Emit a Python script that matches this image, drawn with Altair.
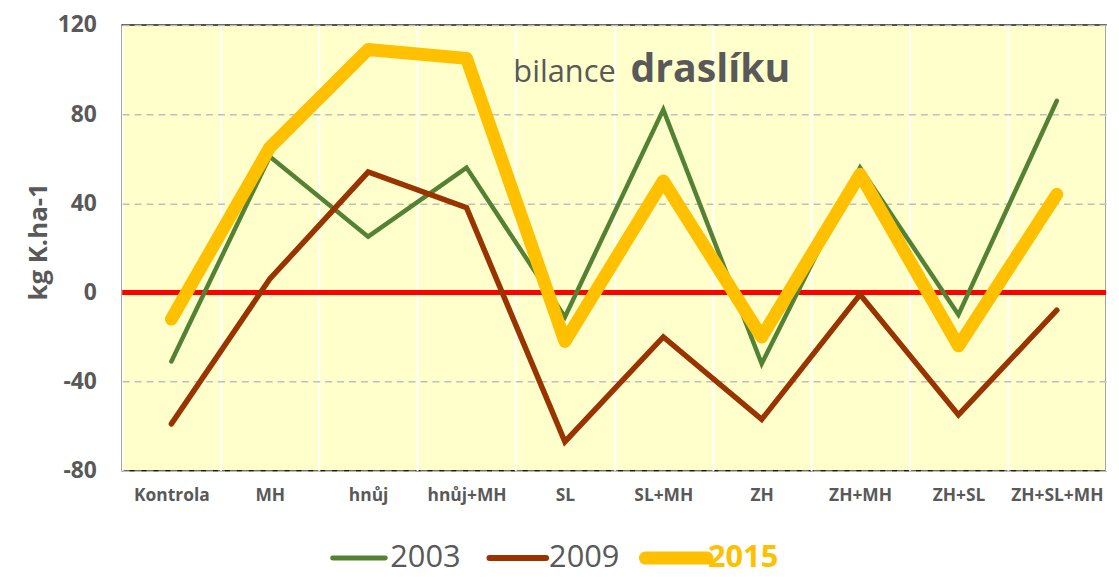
import altair as alt
import pandas as pd

categories = ["Kontrola", "MH", "hnůj", "hnůj+MH", "SL", "SL+MH", "ZH", "ZH+MH", "ZH+SL", "ZH+SL+MH"]
years = ["2003", "2009", "2015"]
y2003 = [-31, 61, 25, 56, -11, 82, -32, 56, -10, 86]
y2009 = [-59, 6, 54, 38, -67, -20, -57, -1, -55, -8]
y2015 = [-12, 65, 109, 105, -22, 50, -20, 53, -24, 44]
y_ticks = [-80, -40, 0, 40, 80, 120]
title_words = ["bilance", "draslíku"]
y_title = "kg K.ha-1"

series = {"2003": y2003, "2009": y2009, "2015": y2015}
colors = {"2003": "#548235", "2009": "#993300", "2015": "#FFC000"}
widths = {"2003": 4.5, "2009": 5.5, "2015": 13}

W, H = 991, 449
GRAY = "#595959"
FONT = "Open Sans"

rows = []
for yr in years:
    for c, v in zip(categories, series[yr]):
        rows.append({"cat": c, "val": v, "year": yr})
df = pd.DataFrame(rows)

x_scale = alt.Scale(type="band", domain=categories, paddingInner=0, paddingOuter=0)
y_scale = alt.Scale(domain=[-80, 120], nice=False, zero=False)

x_axis = alt.Axis(
    title=None, tickBand="extent", grid=True, gridColor="white", gridWidth=2,
    ticks=False, domain=False, labelAngle=0, labelFont=FONT,
    labelFontSize=17.5, labelFontWeight="bold", labelColor=GRAY, labelPadding=16,
)
y_axis = alt.Axis(
    values=y_ticks, grid=True, gridColor="#BFBFBF", gridDash=[7, 5], gridWidth=1.5,
    ticks=False, domain=False, labelFont=FONT, labelFontSize=23, labelFontWeight="bold",
    labelColor=GRAY, labelPadding=26, labelExpr="'' + datum.value",
    title=y_title, titleFont=FONT, titleFontSize=26,
    titleFontWeight="bold", titleColor=GRAY, titleAngle=-90, titleX=-84, titleY=218,
    titleAlign="center", titleBaseline="middle",
)

X = alt.X("cat:N", scale=x_scale, axis=x_axis, sort=categories)
Y = alt.Y("val:Q", scale=y_scale, axis=y_axis)

layers = []

zero_df = pd.DataFrame({"val": [0]})
zero = alt.Chart(zero_df).mark_rule(color="#FF0000", strokeWidth=5).encode(y=Y)
layers.append(zero)

for yr in years:
    d = df[df["year"] == yr]
    ln = alt.Chart(d).mark_line(
        color=colors[yr], strokeWidth=widths[yr], strokeCap="round",
        strokeJoin="round" if yr == "2015" else "miter",
    ).encode(x=X, y=Y)
    layers.append(ln)

# in-plot title
t1 = alt.Chart(pd.DataFrame({"t": [title_words[0]]})).mark_text(
    align="left", baseline="alphabetic", font=FONT, fontSize=31, color=GRAY
).encode(x=alt.value(394), y=alt.value(57), text="t:N")
t2 = alt.Chart(pd.DataFrame({"t": [title_words[1]]})).mark_text(
    align="left", baseline="alphabetic", font=FONT, fontSize=39.5, fontWeight="bold", color=GRAY
).encode(x=alt.value(512), y=alt.value(57), text="t:N")
layers += [t1, t2]

# manual legend below the plot
leg_y = 537
leg_pos = {"2003": (212, 265, 270), "2009": (370, 427, 430), "2015": (527, 589, 590)}
for yr in years:
    x0, x1, xt = leg_pos[yr]
    ldf = pd.DataFrame({"year": [yr]})
    sw = {"2003": 5, "2009": 6, "2015": 13}[yr]
    r = alt.Chart(ldf).mark_rule(color=colors[yr], strokeWidth=sw, strokeCap="round").encode(
        x=alt.value(x0), x2=alt.value(x1), y=alt.value(leg_y)
    )
    tx = alt.Chart(ldf).mark_text(
        align="left", baseline="middle", font=FONT, fontSize=31,
        fontWeight="bold" if yr == "2015" else "normal",
        color=colors[yr] if yr == "2015" else GRAY,
    ).encode(x=alt.value(xt), y=alt.value(leg_y), text="year:N")
    layers += [r, tx]

chart = alt.layer(*layers).properties(
    width=W, height=H,
    autosize=alt.AutoSizeParams(type="none"),
    padding={"left": 115, "top": 15, "right": 5, "bottom": 104},
).configure_view(
    fill="#FFFFCC", stroke="#1A1A1A", strokeWidth=1.5
)

chart.save("out.html", embed_options={"renderer": "svg", "actions": False})
